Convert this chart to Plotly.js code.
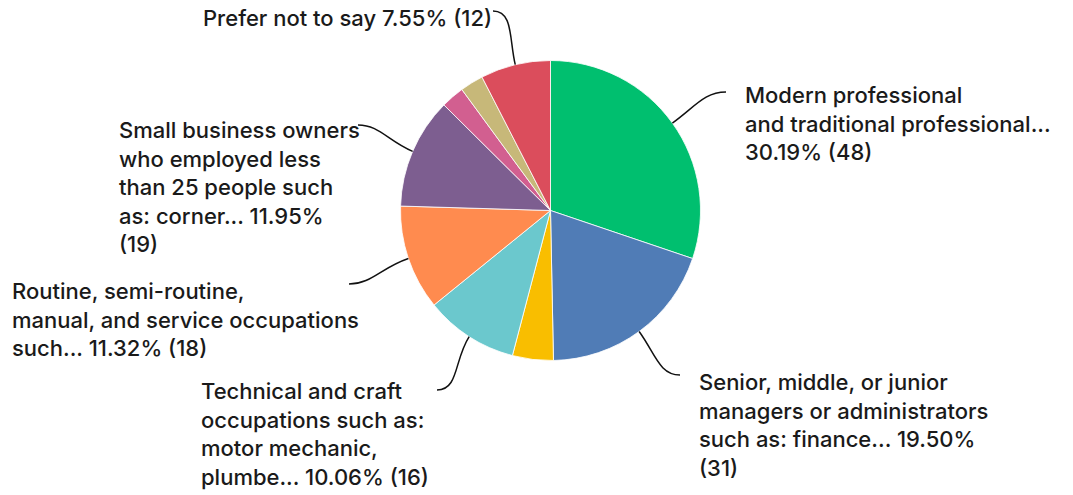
<!DOCTYPE html>
<html>
<head>
<meta charset="utf-8">
<script src="https://cdn.plot.ly/plotly-3.0.1.min.js"></script>
<style>html,body{margin:0;padding:0;background:#fff;}#chart{width:1073px;height:495px;}</style>
</head>
<body>
<div id="chart"></div>
<script>
// ---- data ----
const categories = [
  "Modern professional and traditional professional",
  "Senior, middle, or junior managers or administrators",
  "Clerical and intermediate occupations",
  "Technical and craft occupations",
  "Routine, semi-routine, manual, and service occupations",
  "Small business owners who employed less than 25 people",
  "Long-term unemployed",
  "Other",
  "Prefer not to say"
];
const counts = [48, 31, 7, 16, 18, 19, 4, 4, 12];
const colors = ["#00BF6F", "#507CB6", "#F9BE00", "#6BC8CD", "#FF8B4F", "#7D5E90", "#D25F90", "#C7B879", "#DB4D5C"];
// wrapped display labels ({p} = percent, {n} = count); empty = no label
const labelTemplates = [
  "Modern professional<br>and traditional professional...<br>{p} ({n})",
  "Senior, middle, or junior<br>managers or administrators<br>such as: finance... {p}<br>({n})",
  "",
  "Technical and craft<br>occupations such as:<br>motor mechanic,<br>plumbe... {p} ({n})",
  "Routine, semi-routine,<br>manual, and service occupations<br>such... {p} ({n})",
  "Small business owners<br>who employed less<br>than 25 people such<br>as: corner... {p}<br>({n})",
  "",
  "",
  "Prefer not to say {p} ({n})"
];

// ---- layout constants (pixels) ----
const W = 1073, H = 495;
const cx = 550.5, cy = 210.5, R = 150;
// label placement: [left x, cap-top y, leader end x, leader end y, hook direction]
const labelPos = {
  0: [745, 88, 726, 92, 1],
  1: [699, 375, 680, 375, 1],
  3: [201, 384, 437, 390, -1],
  4: [12, 284, 349, 284, -1],
  5: [119, 123, 358, 125, -1],
  8: [202.5, 11, 493, 11, -1]
};

const total = counts.reduce((a, b) => a + b, 0);
const px = x => x / W;
const py = y => 1 - y / H;

const annotations = [];
const shapes = [];
let cum = 0;
counts.forEach((v, i) => {
  const mid = (cum + v / 2) / total * 2 * Math.PI;
  cum += v;
  if (!labelTemplates[i]) return;
  const pct = (v / total * 100).toFixed(2) + "%";
  const txt = labelTemplates[i].replace("{p}", pct).replace("{n}", v);
  const [lx, ly, ex, ey, dir] = labelPos[i];
  annotations.push({
    text: txt, x: px(lx - 1), y: py(ly - 7), xref: "paper", yref: "paper",
    xanchor: "left", yanchor: "top", align: "left", showarrow: false,
    font: {family: "Inter, sans-serif", size: 22, color: "#1a1a1a", weight: 500},
    borderpad: 0
  });
  // leader line from slice mid-angle on the rim to label
  const sx = cx + R * Math.sin(mid), sy = cy - R * Math.cos(mid);
  const d = Math.hypot(ex - sx, ey - sy);
  const c1x = sx + Math.sin(mid) * d * 0.45, c1y = sy - Math.cos(mid) * d * 0.45;
  const c2x = ex - dir * d * 0.35, c2y = ey;
  shapes.push({
    type: "path", xref: "paper", yref: "paper",
    path: `M ${px(sx)},${py(sy)} C ${px(c1x)},${py(c1y)} ${px(c2x)},${py(c2y)} ${px(ex)},${py(ey)}`,
    line: {color: "#111", width: 1.5}
  });
});

const trace = {
  type: "pie",
  labels: categories,
  values: counts,
  marker: {colors: colors, line: {color: "#ffffff", width: 0.8}},
  sort: false,
  direction: "clockwise",
  rotation: 0,
  textinfo: "none",
  hoverinfo: "none",
  showlegend: false,
  domain: {x: [px(cx - R), px(cx + R)], y: [py(cy + R), py(cy - R)]}
};

Plotly.newPlot("chart", [trace], {
  width: W, height: H,
  margin: {l: 0, r: 0, t: 0, b: 0},
  paper_bgcolor: "#fff",
  showlegend: false,
  annotations: annotations,
  shapes: shapes
}, {staticPlot: true});
</script>
</body>
</html>
